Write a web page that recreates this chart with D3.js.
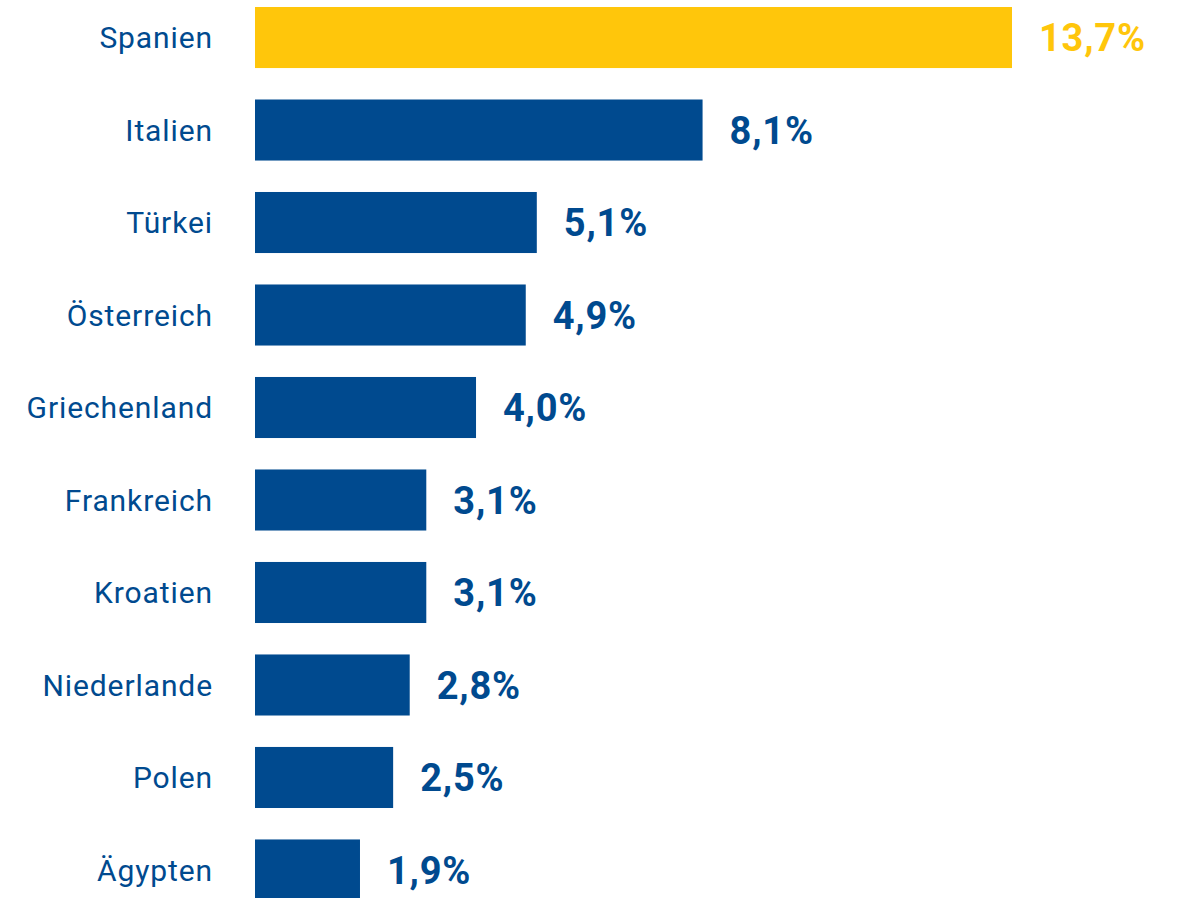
<!DOCTYPE html>
<html><head><meta charset="utf-8">
<script src="https://cdn.jsdelivr.net/npm/d3@7"></script>
<style>body{margin:0;background:#fff}</style>
</head><body>
<script>
const categories = ["Spanien","Italien","Türkei","Österreich","Griechenland","Frankreich","Kroatien","Niederlande","Polen","Ägypten"];
const values = [13.7,8.1,5.1,4.9,4.0,3.1,3.1,2.8,2.5,1.9];
const labels = ["13,7%","8,1%","5,1%","4,9%","4,0%","3,1%","3,1%","2,8%","2,5%","1,9%"];

const W = 1177, H = 898;
const blue = "#004a8f", yellow = "#ffc60b";
const svg = d3.select("body").append("svg").attr("width", W).attr("height", H);

const x = d3.scaleLinear().domain([0, 13.7]).range([255, 1012]);
const y = d3.scaleBand().domain(categories).range([7, 900.5]).paddingInner(0.34).paddingOuter(0);

svg.selectAll("rect.bar").data(categories).join("rect")
  .attr("x", x(0)).attr("y", d => y(d))
  .attr("width", (d,i) => x(values[i]) - x(0))
  .attr("height", y.bandwidth())
  .attr("fill", (d,i) => i === 0 ? yellow : blue);

svg.selectAll("text.cat").data(categories).join("text")
  .attr("x", 213).attr("y", d => y(d) + y.bandwidth()/2)
  .attr("dy", "0.36em").attr("text-anchor", "end")
  .style("font-family", "Roboto, sans-serif")
  .style("font-size", "30px").style("letter-spacing", "0.9px")
  .attr("fill", blue).text(d => d);

svg.selectAll("text.val").data(categories).join("text")
  .attr("x", (d,i) => x(values[i]) + 27).attr("y", d => y(d) + y.bandwidth()/2)
  .attr("dy", "0.36em")
  .style("font-family", "Roboto, sans-serif")
  .style("font-size", "38px").style("font-weight", "bold").style("letter-spacing", "0.8px")
  .attr("fill", (d,i) => i === 0 ? yellow : blue).text((d,i) => labels[i]);
</script>
</body></html>
